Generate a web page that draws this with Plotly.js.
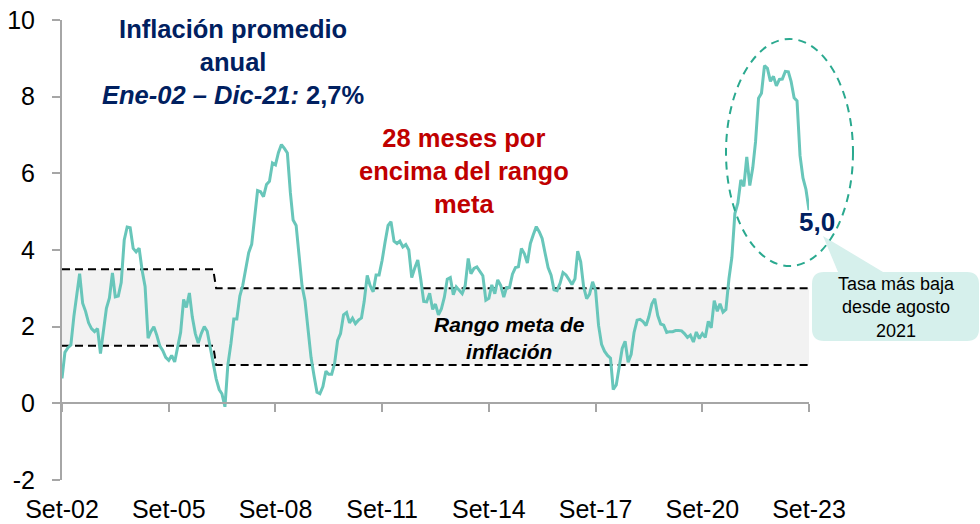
<!DOCTYPE html>
<html>
<head>
<meta charset="utf-8">
<script src="https://cdn.plot.ly/plotly-3.0.1.min.js"></script>
<style>
  body { margin: 0; background: #fff; }
  #chart { width: 980px; height: 524px; }
</style>
</head>
<body>
<div id="chart"></div>
<script>
// inflacion 12 meses (%), mensual, desde Set-02 hasta Set-23
var inicioAnio = 2002
var inicioMes = 9
var inflacion = [
  0.65, 1.33, 1.45, 1.52,
  2.27, 2.79, 3.38, 2.61, 2.40, 2.10, 1.95, 1.87, 1.95, 1.30, 1.85, 2.48,
  2.75, 3.40, 2.78, 2.80, 3.15, 4.26, 4.60, 4.58, 4.04, 3.95, 4.05, 3.48,
  3.05, 1.70, 1.87, 2.00, 1.78, 1.50, 1.38, 1.20, 1.12, 1.25, 1.08, 1.49,
  1.85, 2.71, 2.50, 2.88, 2.25, 1.82, 1.57, 1.82, 2.00, 1.88, 1.47, 1.14,
  0.64, 0.36, 0.25, -0.09, 1.00, 1.55, 2.20, 2.20, 2.80, 3.08, 3.54, 3.93,
  4.15, 4.82, 5.55, 5.52, 5.39, 5.71, 5.79, 6.27, 6.22, 6.54, 6.75, 6.65,
  6.53, 5.49, 4.78, 4.64, 3.95, 3.06, 2.68, 1.87, 1.20, 0.73, 0.29, 0.25,
  0.44, 0.84, 0.76, 0.76, 1.04, 1.64, 1.82, 2.31, 2.37, 2.10, 2.22, 2.08,
  2.17, 2.23, 2.66, 3.34, 3.07, 2.91, 3.35, 3.35, 3.73, 4.20, 4.64, 4.74,
  4.23, 4.17, 4.23, 4.08, 4.14, 4.00, 3.28, 3.53, 3.74, 3.25, 2.66, 2.65,
  2.87, 2.45, 2.59, 2.31, 2.46, 2.77, 3.24, 3.28, 2.83, 3.04, 2.96, 2.86,
  3.07, 3.78, 3.38, 3.52, 3.56, 3.45, 3.33, 2.69, 2.74, 3.09, 2.86, 3.22,
  3.07, 2.77, 3.02, 3.02, 3.37, 3.54, 3.56, 4.04, 3.90, 3.66, 4.17, 4.40,
  4.61, 4.47, 4.30, 3.91, 3.54, 3.34, 2.96, 2.94, 3.13, 3.41, 3.35, 3.23,
  3.10, 3.25, 3.97, 3.69, 3.04, 2.73, 2.85, 3.17, 2.94, 2.04, 1.54, 1.36,
  1.25, 1.18, 0.36, 0.48, 0.93, 1.43, 1.62, 1.07, 1.28, 1.85, 2.17, 2.19,
  2.13, 2.03, 2.25, 2.59, 2.73, 2.29, 2.07, 2.04, 1.85, 1.87, 1.87, 1.90,
  1.90, 1.89, 1.82, 1.72, 1.78, 1.60, 1.86, 1.69, 1.82, 1.72, 2.14, 1.97,
  2.68, 2.40, 2.60, 2.38, 2.45, 3.25, 3.81, 4.95, 5.23, 5.83, 5.66, 6.43,
  5.68, 6.15, 6.82, 7.96, 8.09, 8.81, 8.74, 8.40, 8.53, 8.28, 8.45, 8.46,
  8.66, 8.65, 8.40, 7.97, 7.89, 6.46, 5.88, 5.58, 5.04
]

// rango meta de inflacion
var metaFechas = ['2002-09-01', '2006-12-01', '2007-01-01', '2023-09-01']
var metaSup = [3.5, 3.5, 3.0, 3.0]
var metaInf = [1.5, 1.5, 1.0, 1.0]

var xTickVals = ['2002-09-01', '2005-09-01', '2008-09-01', '2011-09-01', '2014-09-01', '2017-09-01', '2020-09-01', '2023-09-01']
var xTickText = ['Set-02', 'Set-05', 'Set-08', 'Set-11', 'Set-14', 'Set-17', 'Set-20', 'Set-23']
var yTickVals = [-2, 0, 2, 4, 6, 8, 10]
var yTickText = ['-2', '0', '2', '4', '6', '8', '10']

var ultimoValor = '5,0'

function fechas(n){
    var out = []
    for (var i = 0; i < n; i++){
        var m = inicioMes - 1 + i
        var y = inicioAnio + Math.floor(m / 12)
        var mm = (m % 12) + 1
        out.push(y + '-' + (mm < 10 ? '0' + mm : mm) + '-01')
    }
    return out
}

// plot area in pixels: left 62, right 809, top 20, bottom 480
var L = 62, R = 809, T = 20, B = 480
function px(x){ return (x - L) / (R - L) }
function py(y){ return (B - y) / (B - T) }

var FONT = 'Liberation Sans, Arial, sans-serif'
var dash = '8px,5px'

var traces = [
    {
        x: metaFechas, y: metaInf, type: 'scatter', mode: 'lines',
        line: {color: '#000000', width: 2, dash: dash},
        hoverinfo: 'skip'
    },
    {
        x: metaFechas, y: metaSup, type: 'scatter', mode: 'lines',
        fill: 'tonexty', fillcolor: '#f2f2f2',
        line: {color: '#000000', width: 2, dash: dash},
        hoverinfo: 'skip'
    },
    {
        x: fechas(inflacion.length), y: inflacion, type: 'scatter', mode: 'lines',
        xaxis: 'x2',
        line: {color: '#68c6ba', width: 3},
        hoverinfo: 'skip'
    }
]

// callout box with pointer
var r = 12
var bx0 = px(812), bx1 = px(979), byT = py(272), byB = py(341)
var rx = r / (R - L), ry = r / (B - T)
var callout = 'M ' + (bx0 + rx) + ',' + byT +
    ' L ' + px(838) + ',' + byT +
    ' L ' + px(823) + ',' + py(236) +
    ' L ' + px(883) + ',' + byT +
    ' L ' + (bx1 - rx) + ',' + byT +
    ' Q ' + bx1 + ',' + byT + ' ' + bx1 + ',' + (byT - ry) +
    ' L ' + bx1 + ',' + (byB + ry) +
    ' Q ' + bx1 + ',' + byB + ' ' + (bx1 - rx) + ',' + byB +
    ' L ' + (bx0 + rx) + ',' + byB +
    ' Q ' + bx0 + ',' + byB + ' ' + bx0 + ',' + (byB + ry) +
    ' L ' + bx0 + ',' + (byT - ry) +
    ' Q ' + bx0 + ',' + byT + ' ' + (bx0 + rx) + ',' + byT + ' Z'

var layout = {
    width: 980,
    height: 524,
    margin: {l: L, r: 980 - R, t: T, b: 524 - B},
    paper_bgcolor: '#ffffff',
    plot_bgcolor: '#ffffff',
    showlegend: false,
    hovermode: false,
    font: {family: FONT, color: '#000000'},
    xaxis: {
        type: 'date',
        range: ['2002-09-01', '2023-09-01'],
        tickmode: 'array',
        tickvals: xTickVals,
        ticktext: xTickText,
        ticks: '',
        showline: false,
        showgrid: false,
        zeroline: false,
        tickfont: {size: 25, color: '#000000'},
        ticklabelstandoff: 12
    },
    xaxis2: {
        type: 'date',
        overlaying: 'x',
        matches: 'x',
        anchor: 'free',
        position: 2 / 12,
        tickmode: 'array',
        tickvals: xTickVals,
        showticklabels: false,
        ticks: 'outside',
        ticklen: 8,
        tickwidth: 2,
        tickcolor: '#a6a6a6',
        showline: true,
        linecolor: '#a6a6a6',
        linewidth: 2,
        showgrid: false,
        zeroline: false
    },
    yaxis: {
        range: [-2, 10],
        tickmode: 'array',
        tickvals: yTickVals,
        ticktext: yTickText,
        ticks: 'outside',
        ticklen: 8,
        tickwidth: 2,
        tickcolor: '#a6a6a6',
        showline: true,
        linecolor: '#a6a6a6',
        linewidth: 2,
        showgrid: false,
        zeroline: false,
        tickfont: {size: 25, color: '#000000'},
        ticklabelstandoff: 12
    },
    shapes: [
        {
            type: 'path', xref: 'paper', yref: 'paper', path: callout,
            fillcolor: '#d6f0ec', line: {width: 0}, layer: 'above'
        },
        {
            type: 'circle', xref: 'paper', yref: 'paper',
            x0: px(726), x1: px(853), y0: py(266), y1: py(39),
            line: {color: '#2aa98f', width: 2, dash: '8px,6px'}
        }
    ],
    annotations: [
        {
            xref: 'paper', yref: 'paper', x: px(233), y: py(62),
            xanchor: 'center', yanchor: 'middle', showarrow: false,
            text: '<b>Inflación promedio<br>anual<br><i>Ene-02 – Dic-21:</i> 2,7%</b>',
            font: {size: 25.5, color: '#002060', family: FONT}
        },
        {
            xref: 'paper', yref: 'paper', x: px(464), y: py(171),
            xanchor: 'center', yanchor: 'middle', showarrow: false,
            text: '<b>28 meses por<br>encima del rango<br>meta</b>',
            font: {size: 25.5, color: '#c00000', family: FONT}
        },
        {
            xref: 'paper', yref: 'paper', x: px(509), y: py(338),
            xanchor: 'center', yanchor: 'middle', showarrow: false,
            text: '<b><i>Rango meta de<br>inflación</i></b>',
            font: {size: 21, color: '#000000', family: FONT}
        },
        {
            xref: 'paper', yref: 'paper', x: px(817), y: py(222),
            xanchor: 'center', yanchor: 'middle', showarrow: false,
            text: '<b>' + ultimoValor + '</b>',
            font: {size: 26, color: '#002060', family: FONT}
        },
        {
            xref: 'paper', yref: 'paper', x: px(897), y: py(307),
            xanchor: 'center', yanchor: 'middle', showarrow: false,
            text: 'Tasa más baja<br>desde agosto<br>2021',
            font: {size: 18, color: '#000000', family: FONT}
        }
    ]
}

Plotly.newPlot('chart', traces, layout, {staticPlot: true, displayModeBar: false})
</script>
</body>
</html>
